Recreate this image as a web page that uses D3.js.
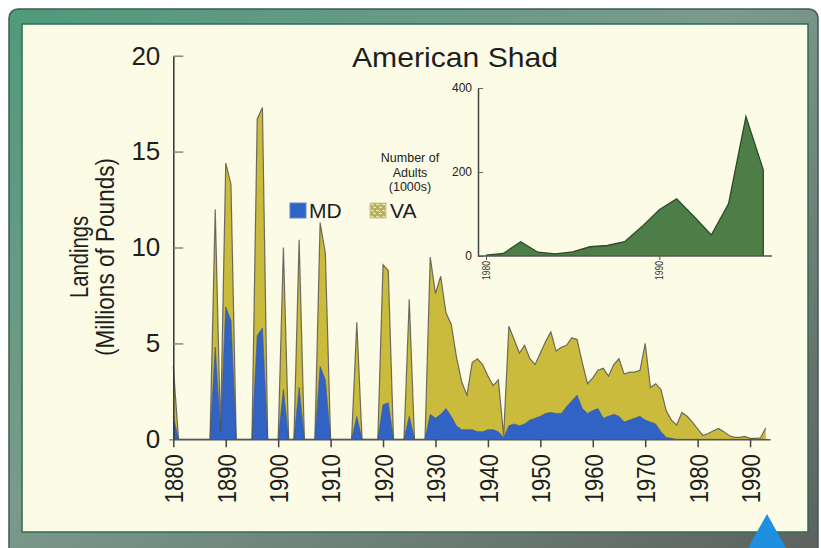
<!DOCTYPE html>
<html>
<head>
<meta charset="utf-8">
<script src="https://cdn.jsdelivr.net/npm/d3@7/dist/d3.min.js"></script>
<style>
	body { margin: 0; background: #ffffff; }
	svg { display: block; font-family: 'Liberation Sans', Arial, Helvetica, sans-serif; }
</style>
</head>
<body>
<div id="chart"></div>
<script>
// landings, millions of pounds, 1880 - 1993 (0 = no record)
const years = d3.range(1880, 1994)
const mdLandings = [
	1.2, 0, 0, 0, 0, 0, 0, 0, 4.8, 0.4,
	6.9, 6.2, 0, 0, 0, 0, 5.4, 5.8, 0, 0,
	0, 2.6, 0, 0, 2.7, 0, 0, 0, 3.8, 3.1,
	0, 0, 0, 0, 0, 1.2, 0, 0, 0, 0,
	1.8, 1.9, 0, 0, 0, 1.2, 0, 0, 0, 1.3,
	1.1, 1.3, 1.6, 1.2, 0.7, 0.5, 0.5, 0.5, 0.4, 0.4,
	0.5, 0.5, 0.4, 0.1, 0.7, 0.8, 0.7, 0.8, 1.0, 1.1,
	1.2, 1.35, 1.4, 1.35, 1.35, 1.7, 2.0, 2.3, 1.6, 1.35,
	1.5, 1.6, 1.1, 1.2, 1.3, 1.2, 0.9, 1.0, 1.1, 1.2,
	1.0, 0.9, 0.8, 0.4, 0.1, 0.05, 0, 0, 0, 0,
	0, 0, 0, 0, 0, 0, 0, 0, 0, 0,
	0, 0, 0, 0
]
const vaLandings = [
	2.6, 0, 0, 0, 0, 0, 0, 0, 7.2, 0.1,
	7.5, 7.1, 0, 0, 0, 0, 11.3, 11.5, 0, 0,
	0, 7.4, 0, 0, 7.7, 0, 0, 0, 7.5, 6.6,
	0, 0, 0, 0, 0, 4.9, 0, 0, 0, 0,
	7.3, 6.9, 0, 0, 0, 6.1, 0, 0, 0, 8.2,
	6.5, 7.2, 5.0, 4.8, 3.6, 2.5, 1.8, 3.5, 3.8, 3.5,
	2.8, 2.3, 2.7, 0.1, 5.2, 4.4, 3.8, 4.1, 3.2, 2.8,
	3.3, 3.75, 4.2, 3.25, 3.45, 3.2, 3.3, 2.9, 2.4, 1.55,
	1.7, 2.0, 2.6, 2.1, 2.6, 3.0, 2.5, 2.5, 2.4, 2.4,
	4.0, 1.8, 2.1, 2.2, 1.4, 0.95, 0.75, 1.4, 1.2, 0.9,
	0.55, 0.2, 0.3, 0.45, 0.57, 0.4, 0.2, 0.1, 0.1, 0.15,
	0.05, 0.05, 0.08, 0.6
]
const yTicks = [0, 5, 10, 15, 20]
const xTicks = [1880, 1890, 1900, 1910, 1920, 1930, 1940, 1950, 1960, 1970, 1980, 1990]

// inset: number of adults (1000s)
const insetYears = [1980, 1981, 1982, 1983, 1984, 1985, 1986, 1987, 1988, 1989, 1990, 1991, 1992, 1993, 1994, 1995, 1996]
const insetAdults = [2, 6, 34, 9, 5, 10, 22, 25, 34, 70, 110, 136, 94, 50, 125, 332, 205]
const insetYTicks = [0, 200, 400]
const insetXTicks = [1980, 1990]

class ShadChart {
	constructor(params) {
		this.attrs = Object.assign(
			{
				container: 'body',
				width: 821,
				height: 548,
				colors: {
					cream: '#fcfce6',
					md: '#3163c5',
					va: '#cbbb3c',
					outline: '#4f4f4f',
					inset: '#4d7e48',
					insetStroke: '#2c4a29',
				},
			},
			params
		)
		this.main()
	}

	main() {
		const { attrs } = this

		this.svg = d3.select(attrs.container)
			.append('svg')
			.attr('width', attrs.width)
			.attr('height', attrs.height)

		this.drawFrame()
		this.drawMain()
		this.drawLegend()
		this.drawInset()
	}

	drawFrame() {
		const { attrs } = this
		const defs = this.svg.append('defs')

		const grad = defs.append('linearGradient')
			.attr('id', 'frame-grad')
			.attr('x1', 0).attr('y1', 0).attr('x2', 1).attr('y2', 1)
		grad.append('stop').attr('offset', '0%').attr('stop-color', '#4f9a7c')
		grad.append('stop').attr('offset', '45%').attr('stop-color', '#7a9a8c')
		grad.append('stop').attr('offset', '100%').attr('stop-color', '#5c605c')

		// textured swatch for VA
		const pat = defs.append('pattern')
			.attr('id', 'va-pattern')
			.attr('width', 6).attr('height', 6)
			.attr('patternUnits', 'userSpaceOnUse')
		pat.append('rect').attr('width', 6).attr('height', 6).attr('fill', '#b7ae5c')
		pat.append('path')
			.attr('d', 'M0,2 L2,1 L4,3 M3,5 L5,4 L6,5')
			.attr('stroke', '#f3f0d0').attr('stroke-width', 1).attr('fill', 'none')

		this.svg.append('rect')
			.attr('x', 9).attr('y', 9)
			.attr('width', 809).attr('height', 560)
			.attr('rx', 9)
			.attr('fill', 'url(#frame-grad)')
			.attr('stroke', '#3d5c50')
			.attr('stroke-width', 1.5)

		this.svg.append('rect')
			.attr('x', 22).attr('y', 24)
			.attr('width', 786).attr('height', 508)
			.attr('fill', attrs.colors.cream)
			.attr('stroke', '#2f6b55')
			.attr('stroke-width', 1.5)

		// blue marker at the bottom edge
		this.svg.append('path')
			.attr('d', 'M748,548 L767,514 L786,548 Z')
			.attr('fill', '#1f8fe2')
	}

	drawMain() {
		const { attrs } = this
		const c = attrs.colors

		const x = d3.scaleLinear().domain([1880, 1993.8]).range([173.3, 770])
		const y = d3.scaleLinear().domain([0, 20]).range([439.3, 55.7])

		const table = years.map((yr, i) => ({ year: yr, md: mdLandings[i], va: vaLandings[i] }))
		const series = d3.stack().keys(['md', 'va'])(table)

		const area = d3.area()
			.x(d => x(d.data.year))
			.y0(d => y(d[0]))
			.y1(d => y(d[1]))

		const topLine = d3.line()
			.x(d => x(d.data.year))
			.y(d => y(d[1]))

		const g = this.svg.append('g').attr('class', 'main-chart')

		g.selectAll('path.layer')
			.data(series.slice().reverse())
			.join('path')
			.attr('class', 'layer')
			.attr('fill', d => d.key === 'md' ? c.md : c.va)
			.attr('d', area)

		g.selectAll('path.edge')
			.data(series)
			.join('path')
			.attr('class', 'edge')
			.attr('fill', 'none')
			.attr('stroke', d => d.key === 'md' ? '#3b4f78' : c.outline)
			.attr('stroke-width', d => d.key === 'md' ? 0.8 : 1.2)
			.attr('stroke-opacity', 0.8)
			.attr('d', topLine)

		// y axis, ticks pointing inward
		const yAxis = g.append('g')
			.attr('transform', 'translate(173.3,0)')
			.call(d3.axisLeft(y).tickValues(yTicks).tickSize(-10).tickPadding(13).tickSizeOuter(0))
		yAxis.select('.domain').attr('stroke', '#333').attr('stroke-width', 1.5)
		yAxis.selectAll('.tick line').attr('stroke', '#8a8a80').attr('stroke-width', 1.5)
		yAxis.selectAll('.tick').filter(d => d === 0).select('line').attr('x2', -4)
		yAxis.selectAll('text')
			.attr('font-size', 26)
			.attr('fill', '#1e1e1e')
			.attr('font-family', null)

		// x axis with rotated years
		const xAxis = g.append('g')
			.attr('transform', 'translate(0,439.3)')
			.call(d3.axisBottom(x).tickValues(xTicks).tickSize(8).tickSizeOuter(0).tickFormat(d3.format('d')))
		xAxis.select('.domain').attr('stroke', '#555').attr('stroke-width', 1.5)
		xAxis.selectAll('.tick line').attr('stroke', '#444').attr('stroke-width', 1.5)
		xAxis.selectAll('text')
			.attr('font-size', 26)
			.attr('font-family', null)
			.attr('fill', '#1e1e1e')
			.attr('transform', 'rotate(-90)')
			.attr('text-anchor', 'end')
			.attr('x', -15)
			.attr('y', 0)
			.attr('dy', '0.36em')
			.attr('textLength', 49)
			.attr('lengthAdjust', 'spacingAndGlyphs')

		// titles
		g.append('text')
			.attr('x', 455)
			.attr('y', 67)
			.attr('text-anchor', 'middle')
			.attr('font-size', 28)
			.attr('fill', '#1e1e1e')
			.attr('textLength', 206)
			.attr('lengthAdjust', 'spacingAndGlyphs')
			.text('American Shad')

		const yTitle = g.append('g').attr('transform', 'translate(0,257) rotate(-90)')
		yTitle.append('text')
			.attr('y', 88)
			.attr('text-anchor', 'middle')
			.attr('font-size', 25)
			.attr('fill', '#1e1e1e')
			.attr('textLength', 82)
			.attr('lengthAdjust', 'spacingAndGlyphs')
			.text('Landings')
		yTitle.append('text')
			.attr('y', 114)
			.attr('text-anchor', 'middle')
			.attr('font-size', 25)
			.attr('fill', '#1e1e1e')
			.attr('textLength', 198)
			.attr('lengthAdjust', 'spacingAndGlyphs')
			.text('(Millions of Pounds)')
	}

	drawLegend() {
		const { attrs } = this
		const items = [
			{ label: 'MD', fill: attrs.colors.md, x: 290 },
			{ label: 'VA', fill: 'url(#va-pattern)', x: 370 },
		]

		const legend = this.svg.append('g').attr('class', 'legend')
			.selectAll('g')
			.data(items)
			.join('g')
			.attr('transform', d => `translate(${d.x},203)`)

		legend.append('rect')
			.attr('width', 16)
			.attr('height', 15)
			.attr('fill', d => d.fill)
			.attr('stroke', d => d.label === 'MD' ? '#5f86d6' : '#cfc88a')
			.attr('stroke-width', 1)

		legend.append('text')
			.attr('x', d => d.label === 'MD' ? 19 : 20)
			.attr('y', 15)
			.attr('font-size', 21)
			.attr('fill', '#1e1e1e')
			.text(d => d.label)
	}

	drawInset() {
		const { attrs } = this
		const c = attrs.colors

		const x = d3.scaleLinear().domain([1980, 1990]).range([486, 659.3])
		const y = d3.scaleLinear().domain([0, 400]).range([256, 88])

		const g = this.svg.append('g').attr('class', 'inset')
		const pts = insetYears.map((yr, i) => ({ year: yr, value: insetAdults[i] }))

		g.append('path')
			.datum(pts)
			.attr('fill', c.inset)
			.attr('d', d3.area().x(d => x(d.year)).y0(y(0)).y1(d => y(d.value)))

		const last = pts[pts.length - 1]
		g.append('path')
			.datum(pts.concat([{ year: last.year, value: 0 }]))
			.attr('fill', 'none')
			.attr('stroke', c.insetStroke)
			.attr('stroke-width', 1.3)
			.attr('d', d3.line().x(d => x(d.year)).y(d => y(d.value)))

		// axes
		const yAxis = g.append('g')
			.attr('transform', 'translate(478,0)')
			.call(d3.axisLeft(y).tickValues(insetYTicks).tickSize(-5).tickPadding(6).tickSizeOuter(0))
		yAxis.select('.domain').attr('stroke', '#444').attr('stroke-width', 1.5)
		yAxis.selectAll('.tick line').attr('stroke', '#666')
		yAxis.selectAll('text')
			.attr('font-size', 12)
			.attr('font-family', null)
			.attr('fill', '#222')

		g.append('line')
			.attr('x1', 478).attr('x2', 772)
			.attr('y1', y(0)).attr('y2', y(0))
			.attr('stroke', '#555')
			.attr('stroke-width', 1.5)

		const xAxis = g.append('g')
			.attr('transform', `translate(0,${y(0)})`)
			.call(d3.axisBottom(x).tickValues(insetXTicks).tickSize(4).tickSizeOuter(0).tickFormat(d3.format('d')))
		xAxis.select('.domain').remove()
		xAxis.selectAll('.tick line').attr('stroke', '#555')
		xAxis.selectAll('text')
			.attr('font-size', 10)
			.attr('font-family', null)
			.attr('fill', '#333')
			.attr('transform', 'rotate(-90)')
			.attr('text-anchor', 'end')
			.attr('x', -5)
			.attr('y', 0)
			.attr('dy', '0.36em')
			.attr('textLength', 19)
			.attr('lengthAdjust', 'spacingAndGlyphs')

		const label = g.append('text')
			.attr('text-anchor', 'middle')
			.attr('font-size', 12.5)
			.attr('fill', '#222')
		label.append('tspan').attr('x', 410).attr('y', 162).text('Number of')
		label.append('tspan').attr('x', 410).attr('y', 177).text('Adults')
		label.append('tspan').attr('x', 410).attr('y', 191).text('(1000s)')
	}
}

new ShadChart({ container: '#chart' })
</script>
</body>
</html>
